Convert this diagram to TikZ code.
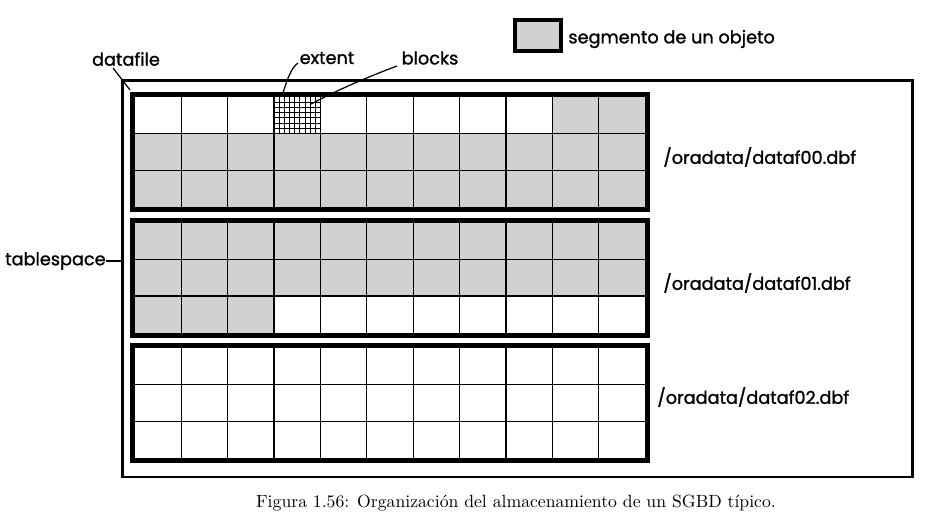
\documentclass[tikz,border=0pt]{standalone}
\usepackage{fontspec}
\newfontfamily\lblfont{Poppins}[FakeBold=1.2]
\begin{document}
\begin{tikzpicture}[x=0.5656pt,y=-0.5656pt,
  lbl/.style={font=\lblfont\fontsize{10}{12}\selectfont, inner sep=0pt},
  captext/.style={font=\normalsize, inner sep=0pt},
  segfill/.style={fill=black!18},
  cellline/.style={line width=0.75pt},
  fineline/.style={line width=0.55pt},
  dfborder/.style={line width=2.83pt},
  tsborder/.style={line width=1.6pt},
  conn/.style={line width=0.7pt},
  legbox/.style={line width=2.2pt, fill=black!18}]
\useasboundingbox (0,0) rectangle (934,525);
\fill[white] (0,0) rectangle (934,525);
\def\cw{46.3636}
\def\ch{36.6667}
% tablespace
\draw[tsborder] (122.5,80.5) rectangle (912.5,477);
% gray segment fills
\fill[segfill] (552.27,97) rectangle (645,133.67);
\fill[segfill] (135,133.67) rectangle (645,207);
\fill[segfill] (135,222.5) rectangle (645,295.83);
\fill[segfill] (135,295.83) rectangle (274.09,332.5);
% extent fine grid
\foreach \i in {1,...,8} {\draw[fineline] (274.09+\i*5.1515,97) -- (274.09+\i*5.1515,133.67);}
\foreach \j in {1,...,6} {\draw[fineline] (274.09,97+\j*5.238) -- (320.45,97+\j*5.238);}
% datafile grids and borders
\foreach \k in {0,1,2} {
  \pgfmathsetmacro\ty{97+125.5*\k}
  \pgfmathsetmacro\by{207+125.5*\k}
  \foreach \c in {1,...,10} {\draw[cellline] (135+\c*\cw,\ty) -- (135+\c*\cw,\by);}
  \foreach \r in {1,2} {\draw[cellline] (135,\ty+\r*\ch) -- (645,\ty+\r*\ch);}
  \draw[dfborder] (132.5,\ty-2.5) rectangle (647.5,\by+2.5);
}
% legend
\draw[legbox] (515,20) rectangle (561,51);
\node[lbl, anchor=west] (legtxt) at (568,39) {segmento de un objeto};
% file labels
\node[lbl, anchor=west] (f00) at (663,157) {/oradata/dataf00.dbf};
\node[lbl, anchor=west] (f01) at (663,283) {/oradata/dataf01.dbf};
\node[lbl, anchor=west] (f02) at (657,397) {/oradata/dataf02.dbf};
% labels with connectors
\node[lbl] (datafileL) at (126,59) {datafile};
\node[lbl] (extentL) at (327,58) {extent};
\node[lbl] (blocksL) at (430,58) {blocks};
\node[lbl, anchor=east] (tablespaceL) at (106,261) {tablespace};
\coordinate (dfA) at (113,68);
\coordinate (dfB) at (130,90);
\coordinate (exA) at (298,63);
\coordinate (exB) at (283,93);
\coordinate (blA) at (397,66);
\coordinate (blB) at (311,104);
\coordinate (tsB) at (122,261);
\draw[conn] (dfA) -- (dfB);
\draw[conn] (exA) .. controls (291,68) and (287,80) .. (exB);
\draw[conn] (blA) .. controls (365,78) and (340,89) .. (blB);
\draw[line width=1.1pt] (tablespaceL.east) -- (tsB);
% caption
\node[captext] (caption) at (516,503) {Figura 1.56: Organización del almacenamiento de un SGBD típico.};
\end{tikzpicture}
\end{document}
